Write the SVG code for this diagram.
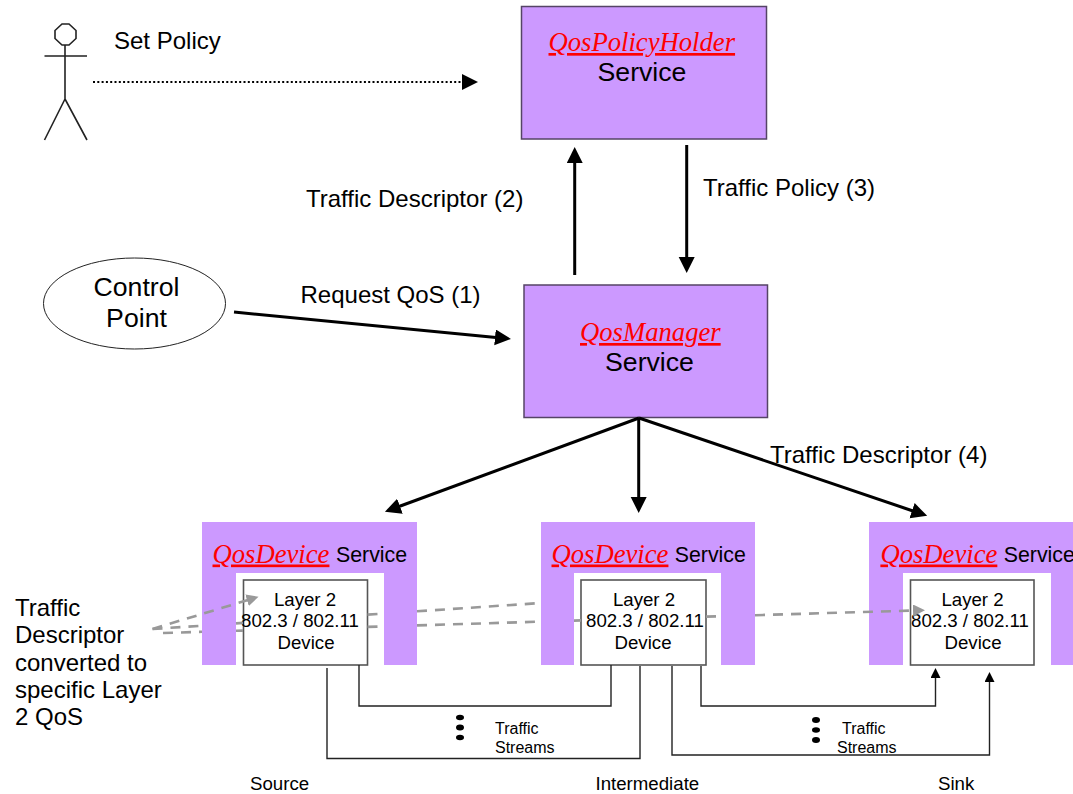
<svg xmlns="http://www.w3.org/2000/svg" width="1073" height="794" viewBox="0 0 1073 794">
<style>
text{font-family:"Liberation Sans",Arial,sans-serif;fill:#000}
.t24{font-size:24px}.t27{font-size:26.67px}.t21{font-size:21.33px}.t19{font-size:18.67px}.t16{font-size:16px}
.q{font-family:"Liberation Serif","Times New Roman",serif;font-style:italic;font-size:26.67px;fill:#f00;text-decoration:underline}
.m{text-anchor:middle}
.svc{fill:#c9f;stroke:#554466;stroke-width:1.5}
.pur{fill:#c9f}.hole{fill:#fff}
.dev{fill:#fff;stroke:#555;stroke-width:1.6}
.thick{fill:none;stroke:#000;stroke-width:3}
.thin{fill:none;stroke:#222;stroke-width:1.4}
.gd{fill:none;stroke:#999;stroke-width:2.6;stroke-dasharray:10 8}
.act{fill:none;stroke:#222;stroke-width:1.6}
</style>
<defs>
<marker id="big" markerUnits="userSpaceOnUse" markerWidth="17" markerHeight="18" refX="1" refY="8" orient="auto"><path d="M0 0L16 8L0 16Z" fill="#000"/></marker>
<marker id="small" markerUnits="userSpaceOnUse" markerWidth="11" markerHeight="12" refX="1" refY="5" orient="auto"><path d="M0 0L10 5L0 10Z" fill="#000"/></marker>
<marker id="grey" markerUnits="userSpaceOnUse" markerWidth="14" markerHeight="14" refX="1" refY="6" orient="auto"><path d="M0 0L12 6L0 12Z" fill="#999"/></marker>
</defs>

<g id="actor">
<path class="act" d="M62 24L69 24L76 30.500L76 38.500L69 45L62 45L55 38.500L55 30.500ZM65 45V99M44.500 56H87M65 99L44.500 140M65 99L87 140"/>
<text class="t24" x="114" y="49">Set Policy</text>
</g>
<g id="control-point">
<ellipse cx="134.500" cy="303.500" rx="91" ry="45.500" fill="#fff" stroke="#222" stroke-width="1"/>
<text class="t27 m" x="136.500" y="296">Control</text>
<text class="t27 m" x="136.500" y="327">Point</text>
</g>
<g id="qos-policy-holder">
<rect class="svc" x="521.500" y="6.500" width="245" height="132.500"/>
<text class="q" x="548.500" y="51">QosPolicyHolder</text>
<text class="t27 m" x="642" y="81">Service</text>
</g>
<g id="qos-manager">
<rect class="svc" x="524" y="285" width="243.500" height="132.500"/>
<text class="q" x="580" y="341">QosManager</text>
<text class="t27 m" x="649.500" y="370.500">Service</text>
</g>

<g id="qos-device-source">
<rect class="pur" x="202" y="522" width="215" height="143"/>
<rect class="hole" x="236" y="573" width="148" height="92"/>
<rect class="dev" x="243.500" y="580" width="124" height="85"/>
<text class="q" x="212.500" y="562.500">QosDevice</text>
<text class="t21" x="336" y="562">Service</text>
<text class="t19 m" x="305" y="606">Layer 2</text>
<text class="t19" x="241" y="627">802.3 / 802.11</text>
<text class="t19 m" x="306" y="649">Device</text>
</g>
<g id="qos-device-intermediate">
<rect class="pur" x="541" y="522" width="214" height="143"/>
<rect class="hole" x="574" y="573" width="147" height="92"/>
<rect class="dev" x="581" y="580" width="125" height="85"/>
<text class="q" x="551.500" y="562.500">QosDevice</text>
<text class="t21" x="674.700" y="562">Service</text>
<text class="t19 m" x="644" y="606">Layer 2</text>
<text class="t19" x="586" y="627">802.3 / 802.11</text>
<text class="t19 m" x="643" y="649">Device</text>
</g>
<g id="qos-device-sink">
<rect class="pur" x="869" y="522" width="204" height="143"/>
<rect class="hole" x="903" y="573" width="148" height="92"/>
<rect class="dev" x="910.500" y="580" width="123.500" height="85"/>
<text class="q" x="880.400" y="562.500">QosDevice</text>
<text class="t21" x="1003.700" y="562">Service</text>
<text class="t19 m" x="972.500" y="606">Layer 2</text>
<text class="t19" x="911" y="627">802.3 / 802.11</text>
<text class="t19 m" x="973" y="649">Device</text>
</g>

<g id="labels">
<text class="t24" x="306" y="207">Traffic Descriptor (2)</text>
<text class="t24" x="703" y="196">Traffic Policy (3)</text>
<text class="t24" x="300.500" y="303">Request QoS (1)</text>
<text class="t24" x="770" y="463">Traffic Descriptor (4)</text>
<text class="t24" x="15" y="616">Traffic</text>
<text class="t24" x="15" y="643">Descriptor</text>
<text class="t24" x="15" y="671">converted to</text>
<text class="t24" x="15" y="698">specific Layer</text>
<text class="t24" x="15" y="725">2 QoS</text>
<text class="t16" x="495" y="734">Traffic</text>
<text class="t16" x="495" y="753">Streams</text>
<text class="t16" x="842" y="734">Traffic</text>
<text class="t16" x="837" y="753">Streams</text>
<text class="t19" x="250" y="790">Source</text>
<text class="t19" x="595.500" y="790">Intermediate</text>
<text class="t19" x="938" y="790">Sink</text>
</g>
<g id="stream-dots" fill="#000">
<ellipse cx="460" cy="717.500" rx="4" ry="2.800"/><ellipse cx="460" cy="727.500" rx="4" ry="3"/><ellipse cx="460" cy="737.500" rx="4" ry="2.800"/>
<ellipse cx="816" cy="720" rx="4" ry="3"/><ellipse cx="816" cy="730" rx="4" ry="2.800"/><ellipse cx="816" cy="740" rx="4" ry="3"/>
</g>

<g id="connectors">
<path d="M93 82H463" fill="none" stroke="#000" stroke-width="2" stroke-dasharray="2 2.300" marker-end="url(#big)"/>
<path class="thick" d="M574.700 275V162" marker-end="url(#big)"/>
<path class="thick" d="M686.700 145V258" marker-end="url(#big)"/>
<path class="thick" d="M234 312L496 337.500" marker-end="url(#big)"/>
<path class="thick" d="M639 418L399 506.500" marker-end="url(#big)"/>
<path class="thick" d="M638.700 418V498" marker-end="url(#big)"/>
<path class="thick" d="M639 418L913 511" marker-end="url(#big)"/>
<path class="thin" d="M359 665V706H611V665"/>
<path class="thin" d="M327 668V758.500H640V666"/>
<path class="thin" d="M672 666V755H989.500V681" marker-end="url(#small)"/>
<path class="thin" d="M701 666V706H935.500V677" marker-end="url(#small)"/>
<path class="gd" d="M152.500 629L248 600" marker-end="url(#grey)"/>
<path class="gd" d="M152.500 629L202 625.700M236 623.400L243 622.900M367.500 614.600L384 613.500M417 611.300L541 603"/>
<path class="gd" d="M163 633L202 631.800M236 630.800L243 630.600M367.500 626.900L384 626.400M417 625.400L541 621.600M574 620.600L581 620.400M706 616.600L721 616.200M755 615.200L914 610.500" marker-end="url(#grey)"/>
</g>
</svg>
